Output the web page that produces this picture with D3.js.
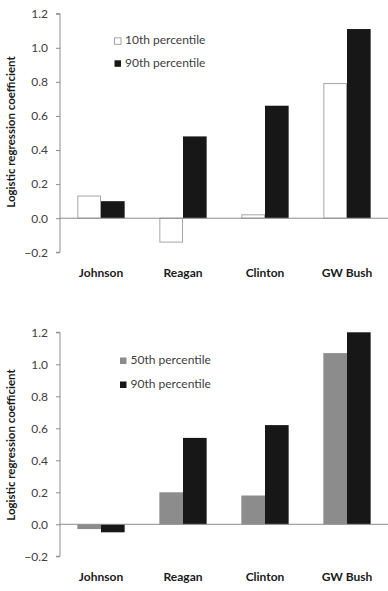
<!DOCTYPE html>
<html><head><meta charset="utf-8">
<script src="https://cdn.jsdelivr.net/npm/d3@7"></script>
<style>body{margin:0;background:#fff}svg{display:block}</style>
</head><body>
<svg id="c" width="388" height="591"></svg>
<script>
const categories = ["Johnson", "Reagan", "Clinton", "GW Bush"];
const yTicks = [-0.2, 0.0, 0.2, 0.4, 0.6, 0.8, 1.0, 1.2];
const yTitle = "Logistic regression coefficient";
const topSeriesNames = ["10th percentile", "90th percentile"];
const top10 = [0.13, -0.14, 0.02, 0.79];
const top90 = [0.10, 0.48, 0.66, 1.11];
const botSeriesNames = ["50th percentile", "90th percentile"];
const bot50 = [-0.03, 0.20, 0.18, 1.07];
const bot90 = [-0.05, 0.54, 0.62, 1.20];

const svg = d3.select("#c");
const font = "Lato, 'Open Sans', sans-serif";

function panel(o) {
  const g = svg.append("g");
  const x = d3.scaleBand().domain(categories).range([60, 388]).paddingInner(0.423).paddingOuter(0.2115);
  const xs = d3.scaleBand().domain([0, 1]).range([0, x.bandwidth()]);
  const y = d3.scaleLinear().domain([-0.2, 1.2]).range([o.yBottom, o.yTop]);

  // y axis
  const ax = g.append("g").attr("transform", "translate(60,0)")
    .call(d3.axisLeft(y).tickValues(yTicks).tickFormat(d3.format(".1f")).tickSize(4).tickPadding(8));
  ax.select(".domain").attr("stroke", "#8c8c8c").attr("d", `M-4,${y(-0.2)}H0V${y(1.2)}H-4`);
  ax.selectAll(".tick line").attr("stroke", "#8c8c8c");
  ax.selectAll(".tick text").attr("fill", "#404040").style("font-family", font).style("font-size", "12px");

  // bars
  const series = o.series;
  series.forEach((s, i) => {
    g.selectAll(null).data(s.values).enter().append("rect")
      .attr("x", (d, j) => x(categories[j]) + xs(i) + (s.stroke ? 0.5 : 0))
      .attr("width", xs.bandwidth() - (s.stroke ? 1 : 0))
      .attr("y", d => Math.min(y(d), y(0)))
      .attr("height", d => Math.abs(y(d) - y(0)))
      .attr("fill", s.fill)
      .attr("stroke", s.stroke || "none")
      .attr("stroke-width", 1);
  });

  // zero line
  g.append("line").attr("x1", 60).attr("x2", 388).attr("y1", y(0)).attr("y2", y(0))
    .attr("stroke", "#8c8c8c").attr("stroke-width", 1);

  // x labels
  g.selectAll(null).data(categories).enter().append("text")
    .attr("x", d => x(d) + x.bandwidth() / 2)
    .attr("y", o.labelY)
    .attr("text-anchor", "middle").attr("dominant-baseline", "middle")
    .style("font-family", font).style("font-size", "12px").style("font-weight", "bold")
    .attr("fill", "#1a1a1a").text(d => d);

  // y title
  g.append("text")
    .attr("transform", `translate(12,${o.titleY}) rotate(-90)`)
    .attr("text-anchor", "middle").attr("dominant-baseline", "middle")
    .style("font-family", font).style("font-size", "11.5px").style("font-weight", "bold")
    .attr("fill", "#1a1a1a").text(yTitle);

  // legend
  series.forEach((s, i) => {
    const ly = o.legendY + i * o.legendStep;
    g.append("rect").attr("x", o.legendX + 0.5).attr("y", ly - 3.5).attr("width", 6.5).attr("height", 6.5)
      .attr("fill", s.fill).attr("stroke", s.stroke || "none");
    g.append("text").attr("x", o.legendX + 11).attr("y", ly)
      .attr("dominant-baseline", "middle")
      .style("font-family", font).style("font-size", "12px")
      .attr("fill", "#404040").text(s.name);
  });
}

panel({
  yTop: 13.7, yBottom: 252.3, labelY: 274, titleY: 132,
  legendX: 114, legendY: 41.3, legendStep: 22.5,
  series: [
    { name: topSeriesNames[0], values: top10, fill: "#ffffff", stroke: "#a6a6a6" },
    { name: topSeriesNames[1], values: top90, fill: "#171717" }
  ]
});
panel({
  yTop: 332.3, yBottom: 556.3, labelY: 577.5, titleY: 445,
  legendX: 119.5, legendY: 361, legendStep: 24,
  series: [
    { name: botSeriesNames[0], values: bot50, fill: "#8c8c8c" },
    { name: botSeriesNames[1], values: bot90, fill: "#171717" }
  ]
});
</script>
</body></html>
